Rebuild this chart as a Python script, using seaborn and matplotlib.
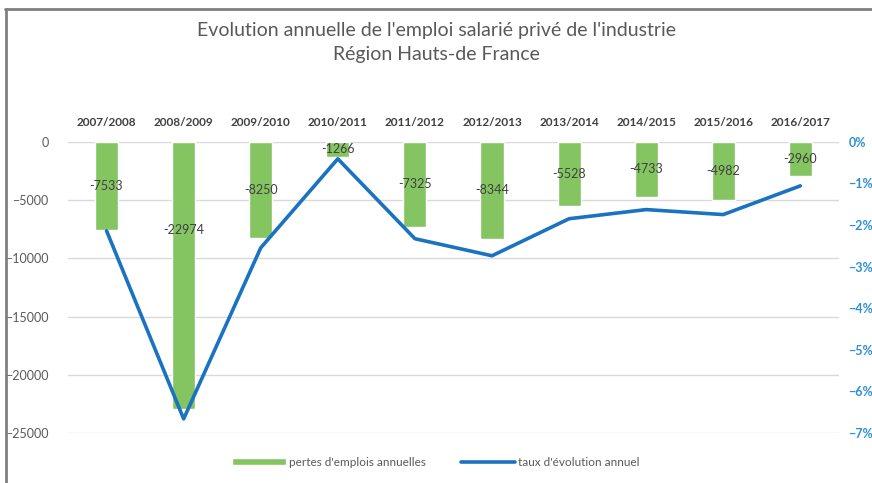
import matplotlib
matplotlib.use("Agg")
import matplotlib.pyplot as plt
import seaborn as sns
import numpy as np
import pandas as pd
from matplotlib.ticker import PercentFormatter

periodes = ['2007/2008', '2008/2009', '2009/2010', '2010/2011', '2011/2012',
            '2012/2013', '2013/2014', '2014/2015', '2015/2016', '2016/2017']
pertes = [-7533, -22974, -8250, -1266, -7325, -8344, -5528, -4733, -4982, -2960]
taux = [-2.14, -6.66, -2.55, -0.41, -2.33, -2.74, -1.85, -1.63, -1.75, -1.06]

df = pd.DataFrame({'periode': periodes, 'pertes': pertes, 'taux': taux})
df['pos'] = np.arange(len(df))

sns.set_style('white')
plt.rcParams['font.family'] = ['Lato', 'DejaVu Sans']

green = '#84c562'
blue = '#1a73c0'
grey = '#595959'

fig = plt.figure(figsize=(8.72, 4.83), dpi=100)
ax = fig.add_axes([0.078, 0.1035, 0.884, 0.603])

sns.barplot(data=df, x='periode', y='pertes', color=green, width=0.3,
            saturation=1, ax=ax, label="pertes d'emplois annuelles")
if ax.get_legend() is not None:
    ax.get_legend().remove()
ax.set_xlim(-0.5, len(df) - 0.5)
ax.set_ylim(-25000, 0)
ax.set_yticks(range(-25000, 1, 5000))
ax.yaxis.grid(True, color='#d9d9d9', lw=1)
ax.set_axisbelow(True)
ax.set_xlabel('')
ax.set_ylabel('')
ax.xaxis.tick_top()
ax.tick_params(axis='x', length=0, labelsize=8.5, labelcolor='#404040', pad=10)
for t in ax.get_xticklabels():
    t.set_fontweight('bold')
ax.tick_params(axis='y', length=0, labelsize=9, labelcolor=grey, pad=14)
for s in ax.spines.values():
    s.set_visible(False)

# étiquettes de données
for p, v in zip(df['pos'], df['pertes']):
    ax.text(p, max(v / 2, -7600), str(v), ha='center', va='center',
            fontsize=9, color='#404040')

ax2 = ax.twinx()
sns.lineplot(data=df, x='pos', y='taux', color=blue, lw=2.6, ax=ax2,
             label="taux d'évolution annuel", legend=False)
ax2.set_ylim(-7, 0)
ax2.set_yticks(range(-7, 1))
ax2.yaxis.set_major_formatter(PercentFormatter(decimals=0))
ax2.tick_params(axis='y', length=0, labelsize=9, labelcolor='#2f8fd6', pad=7)
for t in ax2.get_yticklabels():
    t.set_fontweight('bold')
ax2.set_ylabel('')
ax2.set_xlabel('')
for s in ax2.spines.values():
    s.set_visible(False)
ax2.set_xlim(ax.get_xlim())

fig.suptitle("Evolution annuelle de l'emploi salarié privé de l'industrie\nRégion Hauts-de France",
             y=0.955, fontsize=14, color=grey, linespacing=1.5)

h1, l1 = ax.get_legend_handles_labels()
h2, l2 = ax2.get_legend_handles_labels()
fig.legend(h1[:1] + h2, l1[:1] + l2, loc='center', bbox_to_anchor=(0.5, 0.043), ncol=2,
           frameon=False, fontsize=8.5, labelcolor=grey, handlelength=4.5,
           handleheight=0.6, columnspacing=3, handletextpad=0.3)

# cadre gris du graphique
fig.add_artist(plt.Line2D([0.007, 0.007], [0, 0.982], color='#808080', lw=2,
                          transform=fig.transFigure))
fig.add_artist(plt.Line2D([0.006, 1], [0.982, 0.982], color='#808080', lw=2,
                          transform=fig.transFigure))

fig.savefig('out.png', dpi=100)
